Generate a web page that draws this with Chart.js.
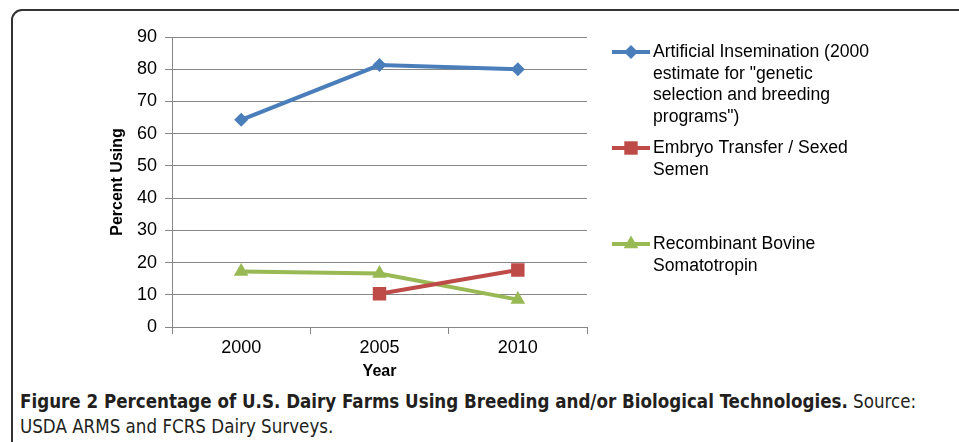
<!DOCTYPE html>
<html>
<head>
<meta charset="utf-8">
<script src="https://cdn.jsdelivr.net/npm/chart.js@4/dist/chart.umd.min.js"></script>
<style>
  body { margin: 0; background: #fff; width: 959px; height: 442px; overflow: hidden; position: relative; }
  #frame { position: absolute; left: 11px; top: 9px; width: 1200px; height: 600px;
           border: 2px solid #333; border-radius: 11px; }
  #wrap { position: absolute; left: 0; top: 0; width: 959px; height: 385px; }
  #caption { position: absolute; left: 20px; top: 389px; width: 905px;
             font-family: "Liberation Sans Narrow", "DejaVu Sans Condensed", sans-serif;
             font-size: 18.6px; line-height: 25px; color: #231f20; }
  #caption b { font-weight: bold; }
</style>
</head>
<body>
<div id="frame"></div>
<div id="wrap"><canvas id="chart"></canvas></div>
<div id="caption"><b>Figure 2 Percentage of U.S. Dairy Farms Using Breeding and/or Biological Technologies.</b> Source: USDA ARMS and FCRS Dairy Surveys.</div>
<script>
(function () {
  const years = ['2000', '2005', '2010'];
  const artificialInsemination = [64.3, 81.3, 80.0];
  const embryoTransfer = [null, 10.3, 17.7];
  const rbst = [17.2, 16.6, 8.5];

  const labelAI = ['Artificial Insemination (2000', 'estimate for "genetic', 'selection and breeding', 'programs")'];
  const labelET = ['Embryo Transfer / Sexed', 'Semen'];
  const labelRB = ['Recombinant Bovine', 'Somatotropin'];

  const font = '"Liberation Sans", Arial, sans-serif';

  // legend drawn by hand so the labels can wrap like the original
  const sideLegend = {
    id: 'sideLegend',
    afterDraw(chart) {
      const ctx = chart.ctx;
      const x0 = 612, x1 = 650, tx = 653;
      ctx.save();
      chart.data.datasets.forEach(function (ds, i) {
        const y = 52 + i * 96;
        ctx.strokeStyle = ds.borderColor;
        ctx.lineWidth = 4;
        ctx.beginPath();
        ctx.moveTo(x0, y);
        ctx.lineTo(x1, y);
        ctx.stroke();
        drawMarker(ctx, ds.pointStyle, (x0 + x1) / 2, y, ds.pointRadius, ds.borderColor);
        ctx.fillStyle = '#000';
        ctx.font = '17.6px ' + font;
        ctx.textBaseline = 'middle';
        ctx.textAlign = 'left';
        ds.legendLines.forEach(function (line, j) {
          ctx.fillText(line, tx, y + j * 21.7);
        });
      });
      ctx.restore();
    }
  };

  function drawMarker(ctx, style, x, y, r, color) {
    ctx.fillStyle = color;
    ctx.beginPath();
    if (style === 'rectRot') {
      ctx.moveTo(x, y - r); ctx.lineTo(x + r, y); ctx.lineTo(x, y + r); ctx.lineTo(x - r, y);
    } else if (style === 'rect') {
      const h = r * Math.SQRT1_2;
      ctx.rect(x - h, y - h, h * 2, h * 2);
    } else {
      ctx.moveTo(x, y - r); ctx.lineTo(x + r * 0.866, y + r * 0.5); ctx.lineTo(x - r * 0.866, y + r * 0.5);
    }
    ctx.closePath();
    ctx.fill();
  }

  new Chart(document.getElementById('chart'), {
    type: 'line',
    data: {
      labels: years,
      datasets: [{
        label: labelAI.join(' '),
        legendLines: labelAI,
        data: artificialInsemination,
        borderColor: '#4A7EBB',
        backgroundColor: '#4A7EBB',
        pointStyle: 'rectRot',
        pointRadius: 7
      }, {
        label: labelET.join(' '),
        legendLines: labelET,
        data: embryoTransfer,
        borderColor: '#BE4B48',
        backgroundColor: '#BE4B48',
        pointStyle: 'rect',
        pointRadius: 9.5
      }, {
        label: labelRB.join(' '),
        legendLines: labelRB,
        data: rbst,
        borderColor: '#98B954',
        backgroundColor: '#98B954',
        pointStyle: 'triangle',
        pointRadius: 8.5
      }]
    },
    options: {
      responsive: true,
      maintainAspectRatio: false,
      animation: false,
      elements: { line: { borderWidth: 4, tension: 0 }, point: { borderWidth: 0 } },
      layout: { padding: { left: 108, right: 372, top: 37, bottom: 0 } },
      plugins: { legend: { display: false }, tooltip: { enabled: false } },
      scales: {
        x: {
          offset: true,
          afterFit(s) { s.height = 58; },
          grid: { offset: true, drawOnChartArea: false, drawTicks: true, tickLength: 7, color: '#868686' },
          border: { color: '#868686', width: 1 },
          ticks: { color: '#000', font: { family: font, size: 18 }, padding: 3 },
          title: { display: true, text: 'Year', color: '#000', font: { family: font, size: 16, weight: 'bold' }, padding: { top: 0, bottom: 4 } }
        },
        y: {
          min: 0,
          max: 90,
          afterFit(s) { s.width = 64; },
          grid: { color: '#868686', tickLength: 7 },
          border: { color: '#868686', width: 1 },
          ticks: { stepSize: 10, color: '#000', font: { family: font, size: 18 }, padding: 8 },
          title: { display: true, text: 'Percent Using', color: '#000', font: { family: font, size: 16, weight: 'bold' }, padding: 0 }
        }
      }
    },
    plugins: [sideLegend]
  });
})();
</script>
</body>
</html>
